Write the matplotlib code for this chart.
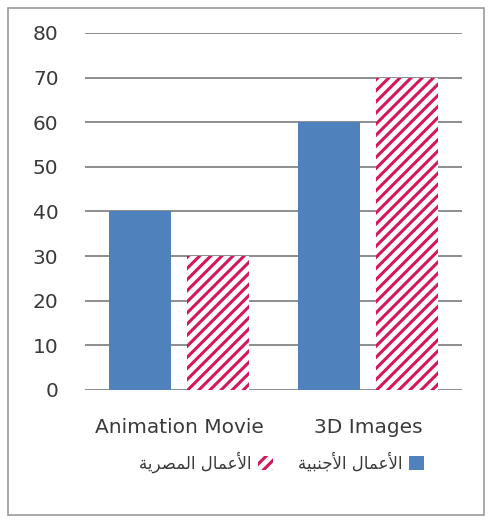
import numpy as np
import matplotlib
matplotlib.use('Agg')
import matplotlib.pyplot as plt
from matplotlib.patches import Rectangle, Patch

# ---------------- DATA ----------------
categories = ['Animation Movie', '3D Images']
foreign_works = [40, 60]    # blue
egyptian_works = [30, 70]   # hatched pink
label_foreign = 'الأعمال الأجنبية'
label_egyptian = 'الأعمال المصرية'
y_ticks = [0, 10, 20, 30, 40, 50, 60, 70, 80]
# --------------------------------------

BLUE = '#4F81BD'
PINK = '#D6165C'
GRID = '#858585'
TEXT = '#3A3A3A'


# matplotlib has no Arabic shaping, so do a tiny one by hand
FORMS = {
    'ا': ('\uFE8D', '\uFE8E', None, None),
    'أ': ('\uFE83', '\uFE84', None, None),
    'ة': ('\uFE93', '\uFE94', None, None),
    'ر': ('\uFEAD', '\uFEAE', None, None),
    'لأ': ('\uFEF7', '\uFEF8', None, None),
    'ل': ('\uFEDD', '\uFEDE', '\uFEDF', '\uFEE0'),
    'ع': ('\uFEC9', '\uFECA', '\uFECB', '\uFECC'),
    'م': ('\uFEE1', '\uFEE2', '\uFEE3', '\uFEE4'),
    'ج': ('\uFE9D', '\uFE9E', '\uFE9F', '\uFEA0'),
    'ن': ('\uFEE5', '\uFEE6', '\uFEE7', '\uFEE8'),
    'ب': ('\uFE8F', '\uFE90', '\uFE91', '\uFE92'),
    'ي': ('\uFEF1', '\uFEF2', '\uFEF3', '\uFEF4'),
    'ص': ('\uFEB9', '\uFEBA', '\uFEBB', '\uFEBC'),
}


def shape(s):
    tokens = []
    i = 0
    while i < len(s):
        if s[i] == 'ل' and i + 1 < len(s) and s[i + 1] == 'أ':
            tokens.append('لأ')
            i += 2
        else:
            tokens.append(s[i])
            i += 1
    dual = {k for k, v in FORMS.items() if v[2] is not None}
    out = []
    for k, t in enumerate(tokens):
        if t not in FORMS:
            out.append(t)
            continue
        prev = tokens[k - 1] if k > 0 else None
        nxt = tokens[k + 1] if k + 1 < len(tokens) else None
        jp = prev in dual
        jn = t in dual and nxt in FORMS
        iso, fin, ini, med = FORMS[t]
        if jp and jn:
            out.append(med)
        elif jp:
            out.append(fin)
        elif jn:
            out.append(ini)
        else:
            out.append(iso)
    return ''.join(reversed(out))


plt.rcParams['font.family'] = ['DejaVu Sans']
plt.rcParams['hatch.linewidth'] = 2.2

fig = plt.figure(figsize=(4.88, 5.22), dpi=100)
ax = fig.add_axes([0.174, 0.253, 0.773, 0.684])

x = np.arange(len(categories))
w = 0.33
off = 0.207
ax.bar(x - off, foreign_works, w, color=BLUE, zorder=3)
ax.bar(x + off, egyptian_works, w, facecolor='white', edgecolor=PINK,
       hatch='///', linewidth=0, zorder=3)

ax.set_xlim(-0.5, 1.5)
ax.set_ylim(0, 80)
ax.set_yticks(y_ticks)
ax.set_xticks(x)
ax.set_xticklabels(categories)
ax.yaxis.grid(True, color=GRID, linewidth=1.3, zorder=0)
ax.set_axisbelow(True)
for s in ['top', 'right', 'left', 'bottom']:
    ax.spines[s].set_visible(False)
ax.tick_params(axis='both', length=0, labelsize=14.5, colors=TEXT)
ax.tick_params(axis='y', pad=19)
ax.tick_params(axis='x', pad=20)

# legend, right-to-left
handles = [Patch(facecolor='white', edgecolor=PINK, hatch='///', linewidth=0),
           Patch(facecolor=BLUE)]
fig.legend(handles, [shape(label_egyptian), shape(label_foreign)],
           loc='center', bbox_to_anchor=(0.577, 0.115), ncol=2,
           frameon=False, markerfirst=False, fontsize=12,
           handlelength=0.9, handleheight=0.9, handletextpad=0.4,
           columnspacing=1.5, labelcolor=TEXT)

# outer border
fig.patches.append(Rectangle((0.016, 0.014), 0.976, 0.97, transform=fig.transFigure,
                             fill=False, edgecolor='#9A9A9A', linewidth=1.2))

fig.savefig('out.png', dpi=100)
